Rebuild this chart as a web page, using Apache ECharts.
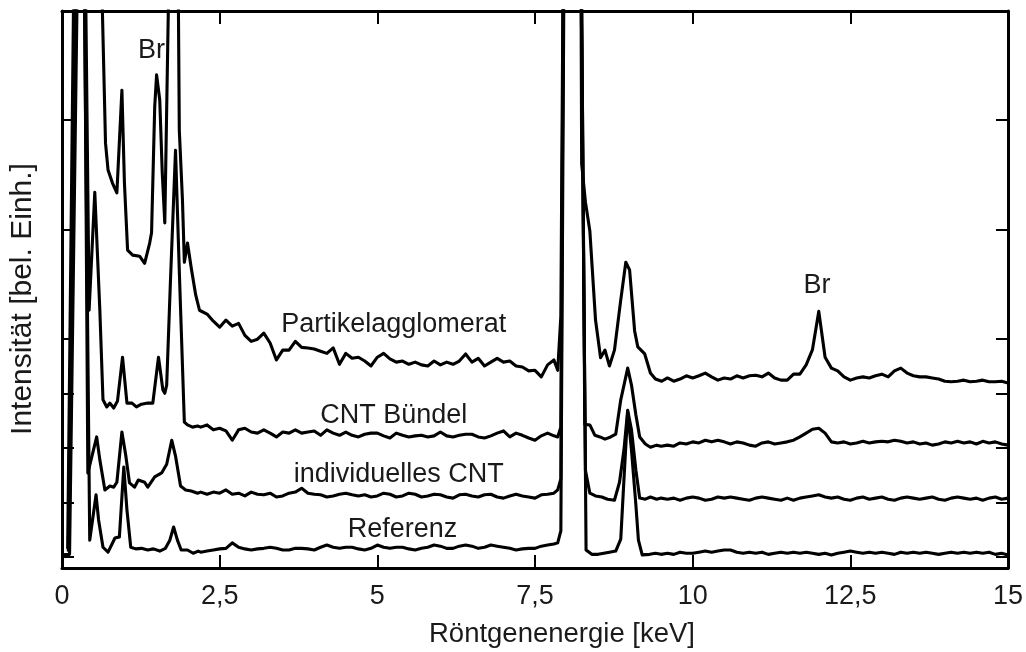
<!DOCTYPE html>
<html>
<head>
<meta charset="utf-8">
<script src="https://cdn.jsdelivr.net/npm/echarts@6/dist/echarts.min.js"></script>
<style>
  html, body { margin: 0; padding: 0; background: #fff; }
  #chart { width: 1026px; height: 652px; }
</style>
</head>
<body>
<div id="chart"></div>
<script>
// EDX spectra, energy in keV, intensity in arbitrary units (offset traces)
const energyMid = [2.2, 2.3, 2.4, 2.5, 2.6, 2.7, 2.8, 2.9, 3.0, 3.1, 3.2, 3.3, 3.4, 3.5, 3.6, 3.7, 3.8, 3.9,
  4.0, 4.1, 4.2, 4.3, 4.4, 4.5, 4.6, 4.7, 4.8, 4.9, 5.0, 5.1, 5.2, 5.3, 5.4, 5.5, 5.6, 5.7, 5.8, 5.9,
  6.0, 6.1, 6.2, 6.3, 6.4, 6.5, 6.6, 6.7, 6.8, 6.9, 7.0, 7.1, 7.2, 7.3, 7.4, 7.5, 7.6, 7.7, 7.8];
const energyHigh = [9.6, 9.7, 9.8, 9.9, 10.0, 10.1, 10.2, 10.3, 10.4, 10.5, 10.6, 10.7, 10.8, 10.9,
  11.0, 11.1, 11.2, 11.3, 11.4, 11.5, 11.6, 11.7, 11.8, 11.9, 12.0, 12.1, 12.2, 12.3, 12.4, 12.5, 12.6,
  12.7, 12.8, 12.9, 13.0, 13.1, 13.2, 13.3, 13.4, 13.5, 13.6, 13.7, 13.8, 13.9, 14.0, 14.1, 14.2, 14.3,
  14.4, 14.5, 14.6, 14.7, 14.8, 14.9, 15.0];

// Partikelagglomerat
const partikelLow = [[0.09, 1.5], [0.2, 120], [0.3, 400], [0.45, 200], [0.55, 250], [0.62, 110],
  [0.69, 75.8], [0.73, 70.9], [0.8, 68.5], [0.87, 66.7], [0.95, 85.5], [0.99, 68.5], [1.04, 56.2],
  [1.12, 55.3], [1.23, 55.1], [1.31, 53.8], [1.39, 57.5], [1.42, 59.4], [1.47, 82.4], [1.5, 88.3],
  [1.55, 83.7], [1.59, 70.3], [1.63, 61.2], [1.7, 110], [1.76, 300], [1.84, 110], [1.86, 78.2],
  [1.91, 65.4], [1.94, 54.0], [1.99, 57.5], [2.05, 52.9], [2.12, 48.0], [2.18, 45.2]];
const partikelMid = [44.9, 44.5, 43.2, 42.1, 43.4, 42.3, 42.8, 40.6, 39.5, 39.9, 41.0, 39.2, 36.1, 37.9,
  37.9, 39.5, 38.4, 38.3, 38.1, 37.7, 37.3, 38.3, 35.3, 37.3, 36.4, 36.6, 35.9, 35.0, 36.6, 37.3, 36.3,
  35.7, 35.9, 35.3, 35.7, 35.2, 35.0, 35.9, 35.2, 35.7, 35.3, 35.9, 37.2, 35.7, 36.4, 35.0, 35.7, 36.4,
  35.7, 35.9, 35.0, 34.8, 34.1, 34.2, 33.0, 35.2, 36.1];
const partikelCu = [[7.86, 34.2], [7.91, 44.1], [7.97, 150], [8.05, 400], [8.15, 250], [8.2, 200],
  [8.24, 72], [8.3, 65], [8.37, 59.7], [8.46, 43.4], [8.54, 36.5], [8.61, 37.9], [8.68, 35.0],
  [8.76, 37.9], [8.86, 47.1], [8.94, 54.0], [9.0, 52.6], [9.08, 41.4], [9.13, 38.5], [9.24, 37.2],
  [9.33, 33.7], [9.41, 32.6], [9.51, 32.2]];
const partikelHigh = [32.8, 32.2, 32.6, 33.2, 32.8, 33.2, 33.7, 33.0, 32.4, 32.8, 32.6, 33.2, 32.8, 33.2,
  33.3, 33.0, 33.7, 32.8, 32.4, 32.4, 33.5, 33.5, 35.2, 38.0, 45.0, 36.6, 34.6, 34.1, 33.0, 32.4, 32.8,
  33.0, 32.8, 33.2, 33.5, 33.0, 34.1, 34.6, 33.7, 33.2, 33.0, 33.0, 32.8, 32.6, 32.2, 32.1, 32.2, 32.4,
  32.1, 32.2, 32.4, 32.1, 32.1, 32.2, 31.9];

// CNT Bündel
const buendelLow = [[0.1, 1.0], [0.22, 120], [0.3, 130], [0.36, 120], [0.43, 45.2], [0.52, 66.8], [0.6, 45.2],
  [0.65, 28.8], [0.71, 27.5], [0.76, 28.2], [0.82, 27.3], [0.88, 28.6], [0.96, 36.6], [1.03, 28.2],
  [1.11, 28.2], [1.18, 27.5], [1.26, 28.0], [1.36, 28.2], [1.44, 28.2], [1.53, 36.6], [1.6, 30.6],
  [1.63, 30.0], [1.66, 31.5], [1.72, 50.7], [1.8, 74.5], [1.86, 52.4], [1.94, 24.7], [1.99, 24.2],
  [2.07, 23.8], [2.15, 24.0]];
const buendelMid = [23.8, 24.2, 23.3, 23.6, 23.1, 21.4, 23.3, 23.6, 22.9, 22.7, 23.3, 22.7, 22.0, 22.9,
  22.7, 23.3, 22.7, 22.9, 23.1, 22.3, 23.3, 22.7, 22.3, 22.9, 22.3, 22.0, 22.5, 22.7, 22.7, 22.2, 21.8,
  22.7, 22.3, 22.0, 22.2, 22.3, 22.0, 22.2, 22.9, 22.2, 22.0, 22.3, 22.5, 22.5, 22.0, 21.8, 22.2, 22.7,
  23.1, 22.0, 22.7, 22.3, 21.8, 21.4, 22.2, 22.7, 22.2];
const buendelCu = [[7.86, 22.0], [7.91, 23.8], [7.97, 150], [8.06, 400], [8.16, 250], [8.21, 150],
  [8.29, 24.3], [8.37, 24.2], [8.45, 22.3], [8.53, 22.0], [8.61, 21.6], [8.7, 22.0], [8.78, 22.5],
  [8.86, 28.8], [8.97, 34.6], [9.03, 31.5], [9.1, 26.0], [9.16, 22.0], [9.25, 20.7], [9.33, 20.1],
  [9.43, 20.5], [9.5, 20.3]];
const buendelHigh = [20.5, 20.3, 20.9, 20.7, 21.1, 20.9, 21.4, 21.1, 21.4, 21.1, 20.7, 21.1, 20.9, 20.5,
  20.3, 20.9, 21.1, 20.7, 20.9, 21.1, 21.4, 22.0, 22.7, 23.4, 23.6, 22.7, 21.1, 20.9, 21.1, 20.7, 20.9,
  21.2, 20.9, 21.1, 21.2, 21.1, 21.4, 21.2, 20.9, 21.1, 20.7, 20.9, 20.5, 20.7, 21.1, 20.9, 21.2, 20.9,
  21.1, 20.7, 21.2, 20.9, 21.1, 20.7, 20.5];

// individuelles CNT
const einzelLow = [[0.11, 1.2], [0.24, 120], [0.3, 130], [0.35, 120], [0.41, 15.4], [0.55, 22.0], [0.6, 17.8],
  [0.68, 12.3], [0.76, 13.0], [0.82, 12.8], [0.87, 13.7], [0.95, 22.9], [1.01, 18.7], [1.07, 13.6],
  [1.15, 12.8], [1.21, 14.1], [1.31, 13.7], [1.36, 12.8], [1.47, 14.7], [1.58, 15.4], [1.66, 17.0],
  [1.74, 21.4], [1.8, 18.5], [1.88, 13.0], [1.96, 12.3], [2.05, 12.1], [2.15, 11.7]];
const einzelMid = [11.9, 11.5, 11.9, 11.7, 12.3, 11.5, 11.7, 11.2, 11.9, 11.5, 11.4, 11.7, 11.0, 11.2,
  11.7, 11.9, 12.6, 11.7, 11.5, 11.4, 11.0, 11.2, 11.5, 11.7, 11.4, 11.2, 11.4, 11.0, 11.2, 11.7, 11.5,
  11.0, 11.2, 11.7, 11.5, 11.0, 11.2, 11.5, 11.4, 11.0, 10.8, 11.4, 11.5, 11.2, 11.0, 11.4, 11.5, 11.0,
  10.8, 11.2, 11.5, 11.2, 11.0, 10.8, 11.4, 11.5, 11.7];
const einzelCu = [[7.86, 12.3], [7.91, 14.3], [7.97, 150], [8.06, 400], [8.16, 250], [8.22, 120],
  [8.3, 15.9], [8.37, 11.7], [8.46, 11.2], [8.56, 11.0], [8.65, 10.6], [8.76, 10.4], [8.84, 13.7],
  [8.91, 19.6], [8.97, 26.9], [9.03, 23.3], [9.1, 15.9], [9.16, 10.8], [9.25, 10.6], [9.33, 11.0],
  [9.43, 10.6], [9.5, 10.8]];
const einzelHigh = [10.6, 10.8, 10.4, 10.8, 11.0, 10.8, 10.4, 10.6, 11.0, 10.8, 11.0, 10.8, 10.6, 10.4,
  10.8, 11.0, 10.8, 10.6, 10.4, 10.8, 10.4, 10.8, 11.0, 11.2, 11.4, 11.0, 10.8, 11.0, 10.6, 10.4, 10.8,
  11.0, 10.6, 10.8, 11.0, 10.6, 10.4, 10.8, 11.0, 10.8, 10.6, 10.8, 11.0, 10.6, 10.4, 10.8, 11.0, 10.8,
  10.6, 10.8, 10.4, 10.8, 11.0, 10.6, 10.8];

// Referenz
const referenzLow = [[0, 0.4], [0.12, 0.5], [0.26, 120], [0.3, 130], [0.34, 120], [0.44, 3.1],
  [0.54, 11.4], [0.58, 6.8], [0.65, 1.8], [0.73, 0.9], [0.84, 3.5], [0.91, 3.7], [0.98, 16.5],
  [1.03, 8.6], [1.09, 1.8], [1.17, 1.5], [1.26, 1.6], [1.36, 1.3], [1.45, 1.5], [1.55, 1.1],
  [1.64, 1.6], [1.71, 3.1], [1.77, 5.5], [1.83, 3.1], [1.89, 1.3], [1.99, 1.3], [2.08, 0.7], [2.16, 1.1]];
const referenzMid = [0.9, 1.1, 1.3, 1.5, 1.6, 2.6, 1.8, 1.5, 1.3, 1.5, 1.6, 1.8, 1.6, 1.3, 1.3, 1.6, 1.6,
  1.5, 1.3, 1.8, 2.2, 1.8, 1.6, 1.8, 1.8, 1.5, 1.3, 1.6, 2.2, 1.8, 1.6, 1.8, 1.8, 1.5, 1.3, 1.6, 1.8,
  2.2, 2.0, 1.6, 1.6, 2.0, 2.2, 2.0, 1.6, 1.8, 2.2, 2.0, 1.8, 1.6, 1.3, 1.5, 1.6, 1.6, 2.0, 2.2, 2.4];
const referenzCu = [[7.86, 2.6], [7.91, 4.8], [7.98, 150], [8.07, 400], [8.17, 250], [8.24, 100],
  [8.31, 1.3], [8.4, 0.5], [8.5, 0.5], [8.59, 0.7], [8.68, 0.9], [8.78, 1.1], [8.86, 3.3], [8.91, 14.1],
  [8.97, 26.6], [9.03, 19.6], [9.1, 9.5], [9.14, 3.1], [9.2, 0.4], [9.32, 0.5], [9.41, 0.7], [9.5, 0.5]];
const referenzHigh = [0.7, 0.5, 0.9, 0.7, 0.7, 0.9, 1.1, 0.9, 1.1, 1.3, 1.3, 0.9, 0.7, 0.9, 0.7, 0.9, 0.5,
  0.7, 0.9, 0.7, 0.9, 0.7, 0.9, 0.7, 0.5, 0.7, 0.4, 0.7, 0.9, 1.1, 0.9, 0.7, 0.9, 0.7, 0.9, 0.7, 0.5,
  0.9, 0.7, 0.9, 0.7, 0.9, 0.7, 0.5, 0.7, 0.9, 0.7, 0.9, 0.7, 0.9, 0.7, 0.9, 0.5, 0.7, 0.4];

// annotations: text and where it sits (keV, intensity)
const labelTexts = ["Br", "Br", "Partikelagglomerat", "CNT Bündel", "individuelles CNT", "Referenz"];
const labelAt = [[1.42, 92.8], [11.97, 49.8], [5.26, 42.5], [5.26, 26.0], [5.34, 15.2], [5.4, 5.1]];

const yTicks = [0, 10, 20, 30, 40, 60, 80];

const FONT = "Liberation Sans, Arial, sans-serif";

const build = (low, mid, cu, high) =>
  low
    .concat(energyMid.map((e, i) => [e, mid[i]]))
    .concat(cu)
    .concat(energyHigh.map((e, i) => [e, high[i]]));

const traces = [
  build(partikelLow, partikelMid, partikelCu, partikelHigh),
  build(buendelLow, buendelMid, buendelCu, buendelHigh),
  build(einzelLow, einzelMid, einzelCu, einzelHigh),
  build(referenzLow, referenzMid, referenzCu, referenzHigh),
];

const xAxisBase = {
  type: "value",
  min: 0,
  max: 15,
  interval: 2.5,
  splitLine: { show: false },
  axisLine: { show: true, onZero: false, lineStyle: { color: "#000", width: 3 } },
  axisTick: { show: true, inside: true, length: 13, lineStyle: { color: "#000", width: 2 } },
};
const yAxisBase = {
  type: "value",
  min: -2,
  max: 100,
  splitLine: { show: false },
  axisLine: { show: true, onZero: false, lineStyle: { color: "#000", width: 3 } },
  axisTick: { show: true, inside: true, length: 12, customValues: yTicks, lineStyle: { color: "#000", width: 2 } },
  axisLabel: { show: false },
};

const chart = echarts.init(document.getElementById("chart"), null, { renderer: "canvas" });

const option = {
  animation: false,
  backgroundColor: "#fff",
  grid: { left: 62, right: 14, top: 11, bottom: 84 },
  xAxis: [
    {
      ...xAxisBase,
      position: "bottom",
      axisLabel: {
        color: "#1a1a1a",
        fontFamily: FONT,
        fontSize: 27,
        margin: 15,
        formatter: (v) => String(v).replace(".", ","),
      },
    },
    { ...xAxisBase, position: "top", axisLabel: { show: false } },
  ],
  yAxis: [
    { ...yAxisBase, position: "left" },
    { ...yAxisBase, position: "right" },
  ],
  graphic: [
    {
      type: "text",
      x: 562,
      y: 634,
      style: {
        text: "Röntgenenergie [keV]",
        fill: "#1a1a1a",
        font: "27.5px " + FONT,
        align: "center",
        verticalAlign: "middle",
      },
    },
    {
      type: "text",
      x: 23,
      y: 299,
      rotation: Math.PI / 2,
      style: {
        text: "Intensität [bel. Einh.]",
        fill: "#1a1a1a",
        font: "30px " + FONT,
        align: "center",
        verticalAlign: "middle",
      },
    },
  ],
  series: traces
    .map((d) => ({
      type: "line",
      data: d,
      showSymbol: false,
      symbol: "none",
      clip: true,
      silent: true,
      lineStyle: { color: "#000", width: 3.1, join: "round" },
    }))
    .concat([
      {
        type: "scatter",
        silent: true,
        symbolSize: 0,
        itemStyle: { opacity: 1 },
        data: labelAt.map((p, i) => [p[0], p[1], labelTexts[i]]),
        label: {
          show: true,
          position: "inside",
          formatter: (p) => p.data[2],
          color: "#1a1a1a",
          opacity: 1,
          textBorderWidth: 0,
          fontFamily: FONT,
          fontSize: 27,
        },
        z: 5,
      },
    ]),
};

chart.setOption(option);
</script>
</body>
</html>
